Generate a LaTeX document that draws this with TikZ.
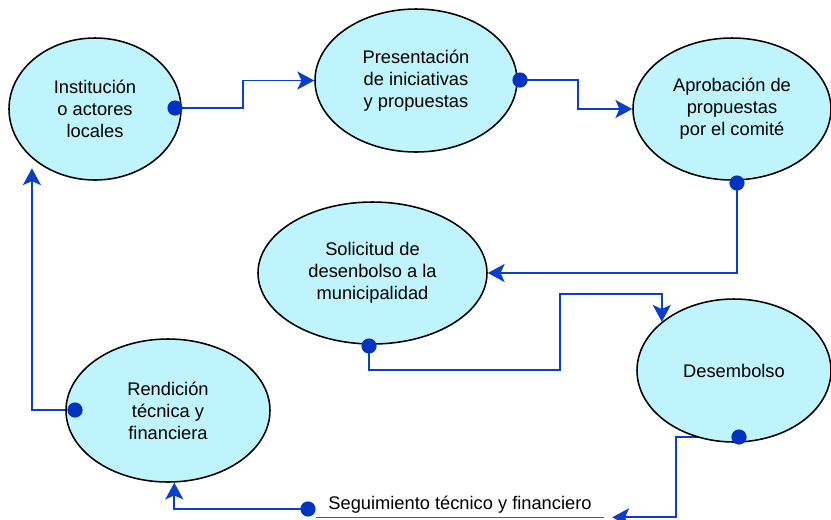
\documentclass[tikz,border=0pt]{standalone}
\usepackage{fontspec}
\setmainfont{Liberation Sans}
\usetikzlibrary{shapes,arrows.meta}
\pgfdeclarelayer{edgelayer}
\pgfdeclarelayer{nodelayer}
\pgfsetlayers{edgelayer,nodelayer,main}
\definecolor{cyanfill}{HTML}{C0F4FC}
\definecolor{linkblue}{HTML}{0A3FCC}
\definecolor{dotblue}{HTML}{0033C0}
\tikzset{font=\fontsize{13}{15.6}\selectfont}
\tikzstyle{none}=[inner sep=0pt]
\tikzstyle{stage}=[ellipse,draw=black,line width=1.1pt,fill=cyanfill,inner sep=0pt,align=center]
\tikzstyle{circ}=[circle,fill=dotblue,inner sep=0pt,minimum size=0.38cm]
\tikzstyle{link}=[draw=linkblue,line width=1.4pt,-{Stealth[length=0.42cm,width=0.45cm,inset=0.1cm]}]

\begin{document}
\begin{tikzpicture}
	\useasboundingbox (0,0) rectangle (20.775,-12.975);
	\begin{pgfonlayer}{nodelayer}
		\node [style=stage, minimum width=4.3cm, minimum height=3.55cm] (0) at (2.375, -2.725) {Institución\\o actores\\locales};
		\node [style=stage, minimum width=5.05cm, minimum height=3.575cm] (1) at (10.4, -2.0125) {Presentación\\de iniciativas\\y propuestas};
		\node [style=stage, minimum width=4.95cm, minimum height=3.55cm] (2) at (18.3, -2.725) {Aprobación de\\propuestas\\por el comité};
		\node [style=stage, minimum width=5.725cm, minimum height=3.55cm] (3) at (9.3125, -6.825) {Solicitud de\\desenbolso a la\\municipalidad};
		\node [style=stage, minimum width=4.85cm, minimum height=3.575cm] (4) at (18.35, -9.2625) {Desembolso};
		\node [style=none, minimum width=7.2cm, minimum height=0.6cm] (5) at (11.5, -12.625) {Seguimiento técnico y financiero};
		\node [style=stage, minimum width=5.1cm, minimum height=3.575cm] (6) at (4.2, -10.2625) {Rendición\\técnica y\\financiera};
	\end{pgfonlayer}
	\node [style=circ] (7) at (4.375, -2.7) {};
	\node [style=circ] (8) at (13.0, -2.0) {};
	\node [style=circ] (9) at (18.425, -4.575) {};
	\node [style=circ] (10) at (9.225, -8.65) {};
	\node [style=circ] (11) at (18.475, -10.925) {};
	\node [style=circ] (12) at (7.7, -12.725) {};
	\node [style=circ] (13) at (1.875, -10.25) {};
	\begin{pgfonlayer}{edgelayer}
		\draw [gray!70!black, line width=0.8pt] (5.south west) to (5.south east);
		\draw [style=link] (7.center) -- ++(1.7, 0) |- (1);
		\draw [style=link] (8.center) -- ++(1.45, 0) |- (2);
		\draw [style=link] (9.center) |- (3);
		\draw [style=link] (10.center) -- ++(0, -0.6) -| (14, -7.35) -| (4.146);
		\draw [style=link] (11.center) -- ++(-1.575, 0) |- ([xshift=0.2cm]5.south east);
		\draw [style=link] (12.center) -| (6.275);
		\draw [style=link] (13.center) -| ([yshift=-0.25cm]0.218);
	\end{pgfonlayer}
\end{tikzpicture}
\end{document}
